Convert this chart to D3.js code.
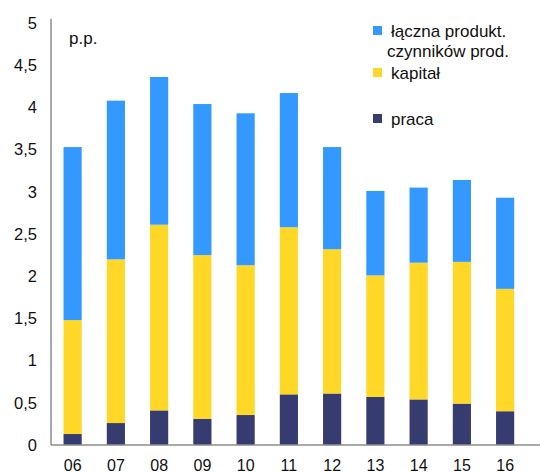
<!DOCTYPE html>
<meta charset="utf-8">
<style>
body { margin: 0; background: #fff; }
svg text { font-family: "Liberation Sans", Arial, sans-serif; fill: #111; }
</style>
<svg width="540" height="473"></svg>
<script src="https://d3js.org/d3.v7.min.js"></script>
<script>

var years = ["06", "07", "08", "09", "10", "11", "12", "13", "14", "15", "16"];
var praca = [0.13, 0.26, 0.41, 0.31, 0.355, 0.60, 0.61, 0.57, 0.54, 0.49, 0.40];
var kapital = [1.35, 1.94, 2.20, 1.94, 1.775, 1.98, 1.71, 1.44, 1.62, 1.68, 1.45];
var tfp = [2.05, 1.88, 1.75, 1.79, 1.80, 1.59, 1.21, 1.00, 0.89, 0.97, 1.08];
var yTicks = [0, 0.5, 1, 1.5, 2, 2.5, 3, 3.5, 4, 4.5, 5];

var seriesNames = ["praca", "kapital", "tfp"];
var colors = { praca: "#363c70", kapital: "#ffd726", tfp: "#3399ff" };

var svg = d3.select("svg");

var rows = years.map(function(y, i) {
  return { year: y, praca: praca[i], kapital: kapital[i], tfp: tfp[i] };
});

var x = d3.scaleBand()
    .domain(years)
    .range([51, 526.75])
    .paddingInner(0.58)
    .paddingOuter(0.29);

var y = d3.scaleLinear()
    .domain([0, 5])
    .range([445, 23]);

var stack = d3.stack().keys(seriesNames)(rows);

svg.append("g")
  .selectAll("g")
  .data(stack)
  .enter().append("g")
    .attr("fill", function(d) { return colors[d.key]; })
  .selectAll("rect")
  .data(function(d) { return d; })
  .enter().append("rect")
    .attr("x", function(d) { return x(d.data.year); })
    .attr("width", x.bandwidth())
    .attr("y", function(d) { return y(d[1]); })
    .attr("height", function(d) { return y(d[0]) - y(d[1]); });

// y axis
var yAxis = svg.append("g")
    .attr("transform", "translate(51,0)")
    .call(d3.axisLeft(y).tickValues(yTicks).tickSize(0).tickPadding(14)
      .tickFormat(function(d) { return String(d).replace(".", ","); }));
yAxis.select(".domain").attr("stroke", "#8c8c8c").attr("stroke-width", 1.5)
    .attr("d", "M0," + y(5.05) + "V" + y(0));
yAxis.selectAll("text").style("font-size", "16.5px").attr("fill", "#111");

// x axis
var xAxis = svg.append("g")
    .attr("transform", "translate(0,445)")
    .call(d3.axisBottom(x).tickSize(0).tickPadding(15));
xAxis.select(".domain").attr("stroke", "#8c8c8c").attr("stroke-width", 1.5)
    .attr("d", "M51,0H540");
xAxis.selectAll("text").style("font-size", "16px").attr("fill", "#111");

svg.append("text")
    .attr("x", 69).attr("y", 44)
    .style("font-size", "17px")
    .text("p.p.");

// legend
var legend = [
  { key: "tfp", lines: ["łączna produkt.", "czynników prod."], y: 31 },
  { key: "kapital", lines: ["kapitał"], y: 73 },
  { key: "praca", lines: ["praca"], y: 119 }
];

var lg = svg.append("g").selectAll("g")
  .data(legend)
  .enter().append("g");

lg.append("rect")
    .attr("x", 373).attr("y", function(d) { return d.y - 5; })
    .attr("width", 9).attr("height", 9)
    .attr("fill", function(d) { return colors[d.key]; });

lg.append("text")
    .attr("y", function(d) { return d.y + 6; })
    .style("font-size", "17px")
    .selectAll("tspan")
    .data(function(d) { return d.lines; })
    .enter().append("tspan")
      .attr("x", function(d, i) { return i === 0 ? 391 : 387; })
      .attr("dy", function(d, i) { return i === 0 ? 0 : 20; })
      .text(function(d) { return d; });

</script>
